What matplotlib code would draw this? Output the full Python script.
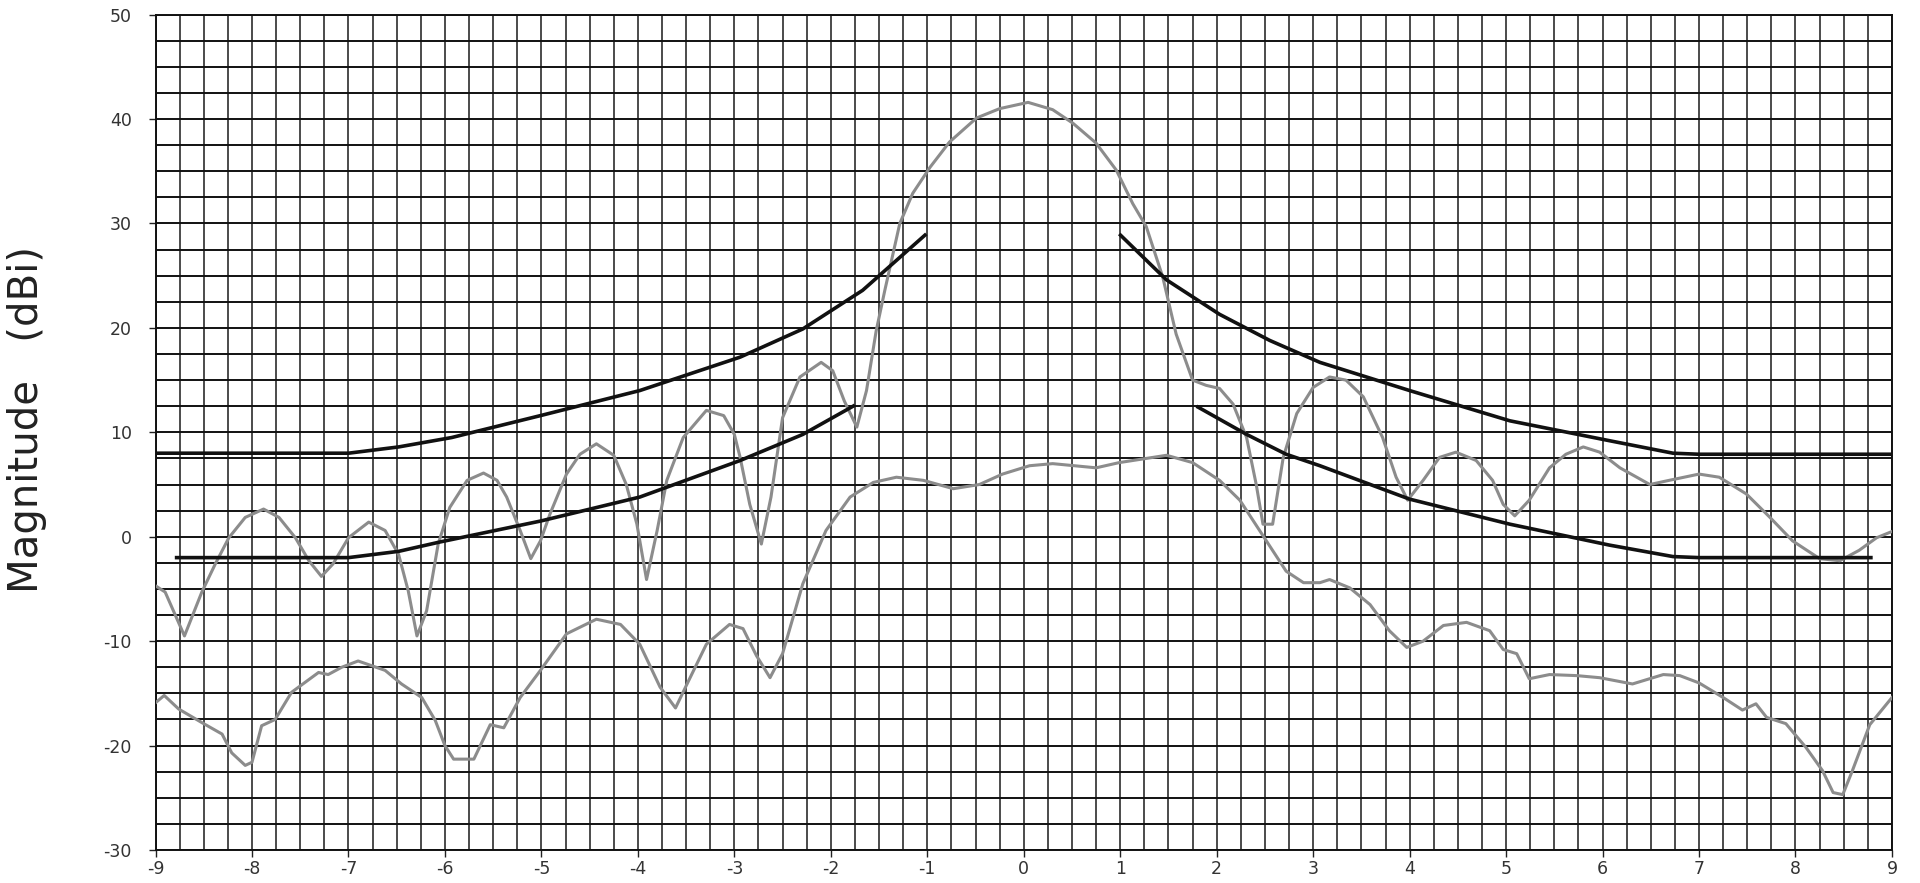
import matplotlib
matplotlib.use("Agg")
import matplotlib.pyplot as plt
import numpy as np

plt.rcParams['font.family'] = ['DejaVu Sans']
plt.rcParams['axes.unicode_minus'] = False

# Main beam pattern (grey)
main_x = [-9.0, -8.9, -8.70, -8.52, -8.38, -8.24, -8.07, -7.88, -7.72, -7.55, -7.41, -7.28, -7.16, -7.0,
          -6.79, -6.62, -6.48, -6.38, -6.29, -6.19, -6.07, -5.95, -5.77, -5.6, -5.46, -5.36, -5.22, -5.11,
          -5.01, -4.91, -4.74, -4.6, -4.43, -4.25, -4.12, -4.01, -3.91, -3.8, -3.7, -3.53, -3.29, -3.11,
          -3.0, -2.94, -2.84, -2.72, -2.62, -2.5, -2.32, -2.1, -1.98, -1.86, -1.73, -1.63, -1.53, -1.44,
          -1.285, -1.15, -0.97, -0.77, -0.49, -0.25, 0.045, 0.30, 0.51, 0.75, 0.96, 1.13, 1.27, 1.44,
          1.58, 1.75, 1.89, 2.03, 2.17, 2.31, 2.41, 2.48, 2.58, 2.69, 2.83, 3.0, 3.17, 3.34, 3.52, 3.72,
          3.86, 3.98, 4.14, 4.31, 4.48, 4.69, 4.86, 4.97, 5.09, 5.24, 5.45, 5.62, 5.8, 5.97, 6.18, 6.49,
          6.69, 7.0, 7.21, 7.49, 7.73, 7.97, 8.25, 8.46, 8.66, 8.84, 9.0]
main_y = [-4.7, -5.3, -9.5, -5.3, -2.6, -0.1, 1.85, 2.65, 1.85, -0.1, -2.3, -3.8, -2.6, -0.1,
          1.4, 0.6, -1.7, -5.2, -9.5, -7.1, -0.7, 2.8, 5.4, 6.1, 5.4, 3.8, 0.6, -2.1,
          -0.4, 2.2, 6.0, 7.9, 8.9, 7.8, 5.0, 1.2, -4.1, 0.6, 5.4, 9.5, 12.1, 11.6,
          9.8, 7.6, 3.1, -0.7, 3.8, 11.4, 15.3, 16.7, 15.9, 13.0, 10.5, 14.0, 19.7, 23.6,
          30.0, 32.9, 35.4, 37.8, 40.1, 41.0, 41.6, 40.9, 39.6, 37.7, 35.1, 31.9, 29.7, 24.9,
          19.4, 15.0, 14.5, 14.2, 12.7, 9.5, 5.0, 1.2, 1.2, 7.6, 11.8, 14.3, 15.3, 15.0, 13.4, 9.5,
          5.7, 3.5, 5.4, 7.6, 8.1, 7.3, 5.4, 3.1, 2.0, 3.5, 6.6, 7.9, 8.6, 8.1, 6.6, 5.0,
          5.4, 6.0, 5.7, 4.1, 1.9, -0.4, -2.1, -2.3, -1.3, -0.1, 0.5]

# Second pattern (grey, lower)
low_x = [-9.0, -8.91, -8.76, -8.52, -8.31, -8.21, -8.07, -8.0, -7.9, -7.76, -7.59, -7.31, -7.21, -7.07,
         -6.9, -6.62, -6.45, -6.24, -6.1, -6.0, -5.91, -5.7, -5.53, -5.39, -5.22, -5.01, -4.74, -4.43,
         -4.18, -3.98, -3.77, -3.61, -3.49, -3.29, -3.05, -2.91, -2.77, -2.63, -2.5, -2.29, -2.05, -1.8,
         -1.56, -1.32, -1.04, -0.73, -0.46, -0.22, 0.06, 0.30, 0.75, 0.99, 1.48, 1.75, 2.03, 2.24, 2.48,
         2.72, 2.9, 3.07, 3.17, 3.38, 3.59, 3.79, 3.97, 4.14, 4.35, 4.59, 4.83, 4.97, 5.11, 5.24, 5.45,
         5.73, 5.97, 6.31, 6.63, 6.8, 7.0, 7.25, 7.45, 7.59, 7.7, 7.9, 8.11, 8.28, 8.39, 8.49, 8.59,
         8.77, 9.0]
low_y = [-15.9, -15.2, -16.5, -17.8, -18.9, -20.7, -21.9, -21.6, -18.1, -17.5, -14.9, -13.0, -13.2, -12.5,
         -11.9, -12.8, -14.1, -15.4, -17.6, -20.0, -21.3, -21.3, -18.0, -18.3, -15.4, -12.8, -9.3, -7.9,
         -8.4, -10.3, -14.4, -16.4, -14.1, -10.3, -8.4, -8.8, -11.4, -13.5, -11.2, -4.5, 0.6, 3.8,
         5.2, 5.7, 5.4, 4.6, 5.0, 6.0, 6.8, 7.0, 6.6, 7.1, 7.8, 7.1, 5.4, 3.5, 0.1,
         -3.3, -4.4, -4.4, -4.1, -4.9, -6.5, -9.0, -10.6, -10.0, -8.5, -8.2, -9.0, -10.8, -11.2, -13.6, -13.2,
         -13.3, -13.5, -14.1, -13.2, -13.3, -14.0, -15.4, -16.6, -16.0, -17.3, -17.9, -20.2, -22.4, -24.5, -24.7, -22.4,
         -18.0, -15.4]

# Upper mask (black)
umask_l_x = [-9.0, -7.0, -6.48, -5.93, -5.01, -3.98, -2.94, -2.29, -1.67, -1.01]
umask_l_y = [8.0, 8.0, 8.6, 9.5, 11.6, 14.0, 17.2, 19.9, 23.6, 29.0]
umask_r_x = [0.99, 1.48, 2.03, 2.55, 3.07, 4.0, 5.04, 6.07, 6.73, 7.0, 9.0]
umask_r_y = [29.0, 24.6, 21.3, 18.8, 16.7, 14.0, 11.1, 9.2, 8.0, 7.9, 7.9]

# Lower mask (black)
lmask_l_x = [-8.8, -7.0, -6.48, -6.05, -5.01, -3.98, -2.94, -2.29, -1.75]
lmask_l_y = [-2.0, -2.0, -1.4, -0.5, 1.5, 3.8, 7.3, 9.8, 12.6]
lmask_r_x = [1.79, 2.31, 2.72, 3.07, 4.0, 5.04, 6.07, 6.73, 7.0, 8.8]
lmask_r_y = [12.5, 9.8, 7.9, 6.8, 3.6, 1.2, -0.8, -1.9, -2.0, -2.0]

x_ticks = list(range(-9, 10))
y_ticks = list(range(-30, 51, 10))

fig = plt.figure(figsize=(19.2, 8.83), dpi=100)
ax = fig.add_axes([0.081, 0.0374, 0.9044, 0.946])
ax.set_xlim(-9, 9)
ax.set_ylim(-30, 50)

# grid
for gx in np.arange(-9, 9.001, 0.25):
    ax.axvline(gx, color='#1a1a1a', lw=1.1, zorder=1)
for gy in np.arange(-30, 50.001, 2.5):
    ax.axhline(gy, color='#111111', lw=1.4, zorder=1)

ax.plot(main_x, main_y, color='#8c8c8c', lw=2.2, zorder=3)
ax.plot(low_x, low_y, color='#8c8c8c', lw=2.2, zorder=3)
for xs, ys in [(umask_l_x, umask_l_y), (umask_r_x, umask_r_y),
               (lmask_l_x, lmask_l_y), (lmask_r_x, lmask_r_y)]:
    ax.plot(xs, ys, color='#111111', lw=2.6, zorder=4, solid_capstyle='butt')

ax.set_xticks(x_ticks)
ax.set_yticks(y_ticks)
ax.tick_params(axis='both', direction='out', length=5, width=1.0, color='#222222',
               labelsize=12.5, labelcolor='#333333')
ax.tick_params(axis='x', pad=2.5)
ax.tick_params(axis='y', pad=12)
for s in ax.spines.values():
    s.set_color('#111111')
    s.set_linewidth(1.4)

fig.text(0.014, 0.525, 'Magnitude   (dBi)', rotation=90, va='center', ha='center',
         fontsize=29, color='#222222')

fig.savefig('out.png', dpi=100)
